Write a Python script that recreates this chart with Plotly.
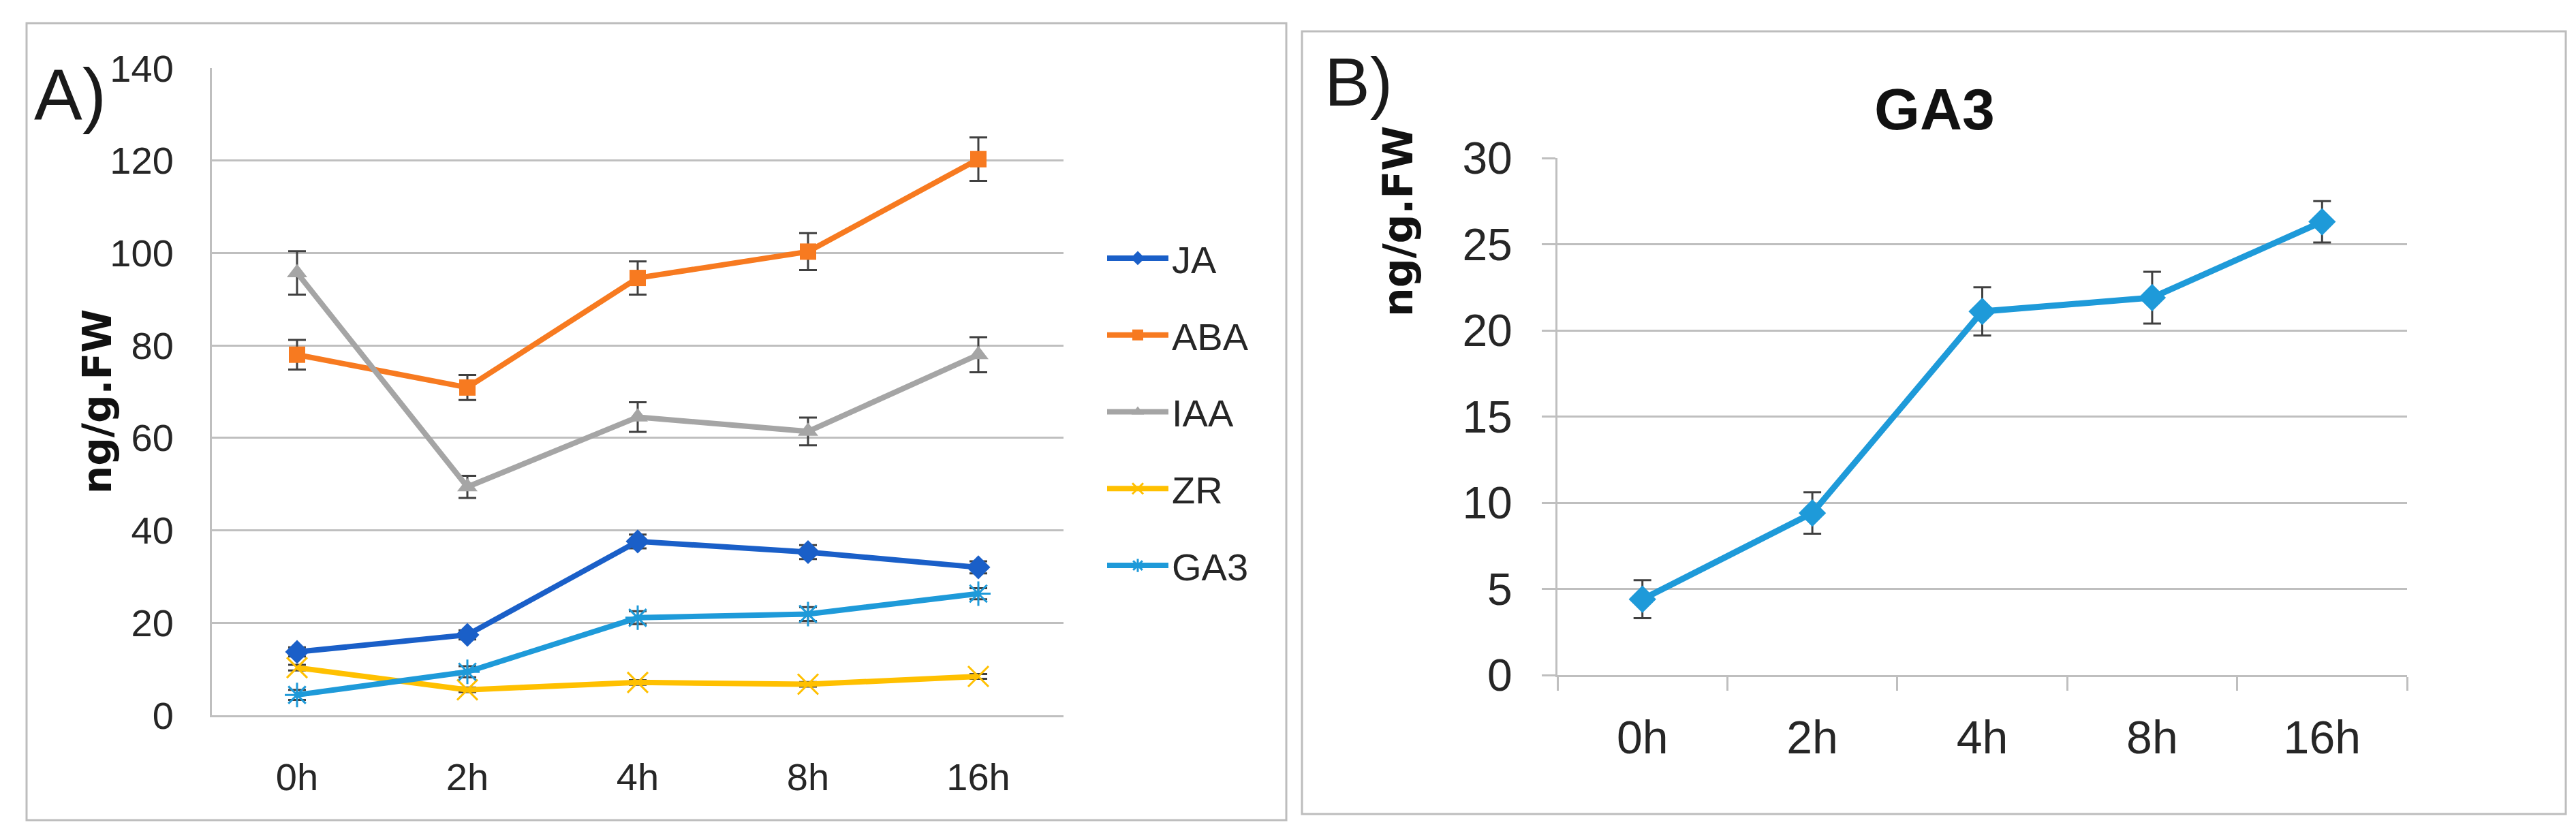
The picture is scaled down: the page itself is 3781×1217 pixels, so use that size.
import plotly.graph_objects as go

W, H = 3781, 1217

times = ["0h", "2h", "4h", "8h", "16h"]

ja = [13.7, 17.4, 37.6, 35.3, 32.0]
ja_err = [1.0, 1.0, 1.5, 1.5, 1.3]
aba = [78.0, 70.9, 94.6, 100.3, 120.3]
aba_err = [3.2, 2.7, 3.6, 4.0, 4.7]
iaa = [95.7, 49.4, 64.5, 61.4, 78.0]
iaa_err = [4.7, 2.4, 3.2, 3.0, 3.8]
zr = [10.3, 5.5, 7.1, 6.7, 8.4]
zr_err = [0.6, 0.5, 0.5, 0.5, 0.5]
ga3 = [4.4, 9.4, 21.1, 21.9, 26.3]
ga3_err = [1.1, 1.2, 1.4, 1.5, 1.2]

y_ticks_a = [0, 20, 40, 60, 80, 100, 120, 140]
y_ticks_b = [0, 5, 10, 15, 20, 25, 30]

FONT = "Liberation Sans, Arial, sans-serif"
BOLDF = "DejaVu Sans, Verdana, sans-serif"

C_JA = "#1A5FC8"
C_ABA = "#F77A20"
C_IAA = "#A5A5A5"
C_ZR = "#FFC000"
C_GA3 = "#1E9AD9"
ERR = "#404040"
GRID = "#BFBFBF"


def px(x):
    return x / W


def py(y):
    return 1 - y / H


def err(a):
    return dict(type="data", array=a, color=ERR, thickness=3, width=13, visible=True)


fig = go.Figure()

series = [
    ("JA", ja, ja_err, C_JA, dict(symbol="diamond", size=27, color=C_JA)),
    ("ABA", aba, aba_err, C_ABA, dict(symbol="square", size=24, color=C_ABA)),
    ("IAA", iaa, iaa_err, C_IAA, dict(symbol="triangle-up", size=26, color=C_IAA)),
    ("ZR", zr, zr_err, C_ZR, dict(symbol="x-thin-open", size=30, color=C_ZR,
                                   line=dict(width=3, color=C_ZR))),
    ("GA3", ga3, ga3_err, C_GA3, dict(symbol="asterisk-open", size=30, color=C_GA3,
                                       line=dict(width=3, color=C_GA3))),
]

for name, vals, e, col, mk in series:
    fig.add_trace(go.Scatter(
        x=times, y=vals, name=name, mode="lines+markers",
        line=dict(color=col, width=8), marker=mk, error_y=err(e),
        legendgroup=name, xaxis="x", yaxis="y",
    ))

fig.add_trace(go.Scatter(
    x=times, y=ga3, name="GA3 ", mode="lines+markers", showlegend=False,
    line=dict(color=C_GA3, width=9),
    marker=dict(symbol="diamond", size=31, color=C_GA3),
    error_y=err(ga3_err), xaxis="x2", yaxis="y2",
))

fig.update_layout(
    autosize=False,
    width=W, height=H,
    margin=dict(l=0, r=0, t=0, b=0, pad=0),
    paper_bgcolor="white", plot_bgcolor="white",
    showlegend=True,
    legend=dict(
        x=px(1612), y=py(328), xanchor="left", yanchor="top",
        font=dict(family=FONT, size=56, color="#262626"),
        tracegroupgap=37, itemwidth=90, bgcolor="rgba(0,0,0,0)",
    ),
    xaxis=dict(
        domain=[px(303), px(1553)], anchor="y", type="category",
        categoryorder="array", categoryarray=times, range=[-0.5, 4.5],
        showline=True, linecolor=GRID, linewidth=3, showgrid=False,
        ticks="", tickfont=dict(family=FONT, size=56, color="#262626"),
        ticklabelstandoff=40, automargin=False,
    ),
    yaxis=dict(
        domain=[py(1042), py(92)], anchor="x", range=[0, 140],
        tickvals=y_ticks_a, showgrid=True, gridcolor=GRID, gridwidth=3,
        showline=True, linecolor=GRID, linewidth=3, zeroline=False,
        ticks="", tickfont=dict(family=FONT, size=56, color="#262626"),
        ticklabelstandoff=42, automargin=False,
    ),
    xaxis2=dict(
        domain=[px(2278), px(3525)], anchor="y2", type="category",
        categoryorder="array", categoryarray=times, range=[-0.5, 4.5],
        showline=True, linecolor=GRID, linewidth=3, showgrid=False,
        ticks="outside", tickson="boundaries", ticklen=20, tickwidth=3,
        tickcolor=GRID, tickfont=dict(family=FONT, size=68, color="#262626"),
        ticklabelstandoff=30, automargin=False,
    ),
    yaxis2=dict(
        domain=[py(983), py(224)], anchor="x2", range=[0, 30],
        tickvals=y_ticks_b, showgrid=True, gridcolor=GRID, gridwidth=3,
        showline=True, linecolor=GRID, linewidth=3, zeroline=False,
        ticks="outside", ticklen=20, tickwidth=3, tickcolor=GRID,
        tickfont=dict(family=FONT, size=66, color="#262626"),
        ticklabelstandoff=30, automargin=False,
    ),
)

# panel frames
fig.add_shape(type="rect", xref="paper", yref="paper",
              x0=px(31), x1=px(1880), y0=py(1196), y1=py(26),
              line=dict(color="#BDBDBD", width=3), layer="below")
fig.add_shape(type="rect", xref="paper", yref="paper",
              x0=px(1903), x1=px(3758), y0=py(1187), y1=py(38),
              line=dict(color="#BDBDBD", width=3), layer="below")

ann = [
    dict(text="A)", x=px(40), y=py(130), xanchor="left", yanchor="middle",
         font=dict(family=FONT, size=106, color="#1a1a1a")),
    dict(text="B)", x=px(1934), y=py(112), xanchor="left", yanchor="middle",
         font=dict(family=FONT, size=100, color="#1a1a1a")),
    dict(text="<b>GA3</b>", x=px(2831), y=py(152), xanchor="center", yanchor="middle",
         font=dict(family=FONT, size=86, color="#111111")),
    dict(text="<b>ng/g.FW</b>", x=px(135), y=py(582), xanchor="center", yanchor="middle",
         textangle=-90, font=dict(family=BOLDF, size=58, color="#111111")),
    dict(text="<b>ng/g.FW</b>", x=px(2044), y=py(317), xanchor="center", yanchor="middle",
         textangle=-90, font=dict(family=BOLDF, size=60, color="#111111")),
]
for a in ann:
    fig.add_annotation(xref="paper", yref="paper", showarrow=False, **a)

fig.write_html("out.html", config={"responsive": False},
               default_width="%dpx" % W, default_height="%dpx" % H)
